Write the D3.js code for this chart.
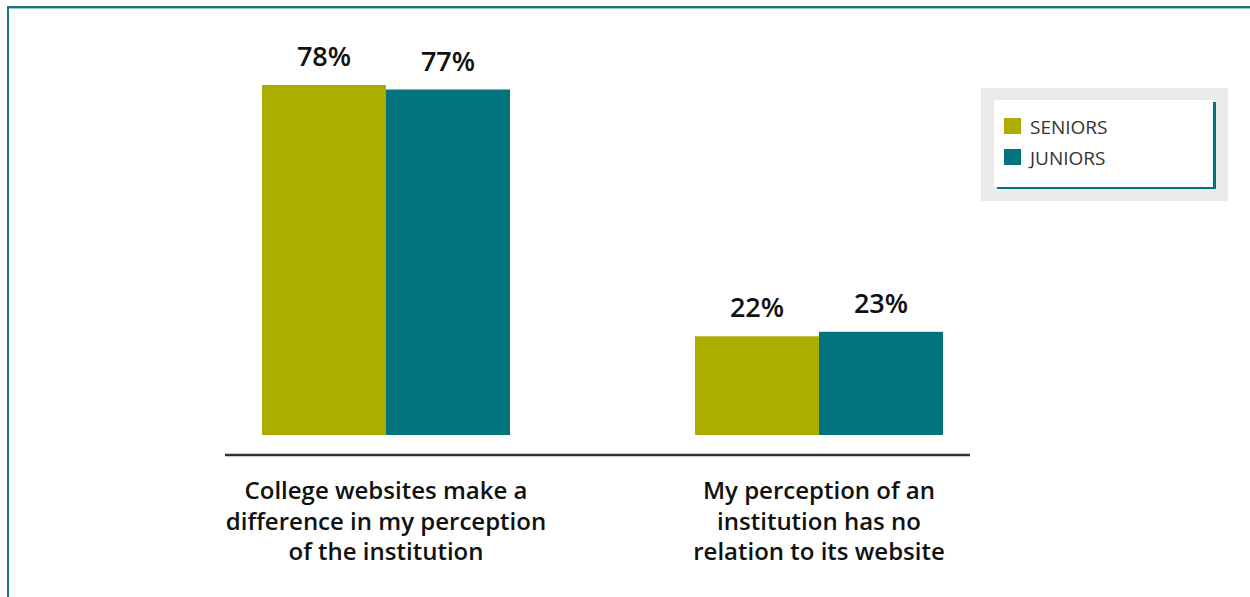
<!DOCTYPE html>
<html>
<head>
<meta charset="utf-8">
<script src="https://cdn.jsdelivr.net/npm/d3@7"></script>
<style>
  html, body { margin: 0; padding: 0; background: #fff; }
  svg { display: block; }
</style>
</head>
<body>
<div id="chart"></div>
<script>
// data
const categories = [
  ["College websites make a", "difference in my perception", "of the institution"],
  ["My perception of an", "institution has no", "relation to its website"]
];
const seriesNames = ["SENIORS", "JUNIORS"];
const seniors = [78, 22];
const juniors = [77, 23];
const colors = ["#adad00", "#03737d"];

const W = 1250, H = 597;
const font = "'Open Sans', sans-serif";

const svg = d3.select('#chart').append('svg')
  .attr('width', W)
  .attr('height', H);

// outer frame (only top and left are visible)
svg.append('rect')
  .attr('x', 8).attr('y', 7)
  .attr('width', W + 20).attr('height', H + 20)
  .attr('fill', 'none')
  .attr('stroke', '#1b7882')
  .attr('stroke-width', 2);
svg.append('line')
  .attr('x1', 9).attr('x2', W)
  .attr('y1', 8.5).attr('y2', 8.5)
  .attr('stroke', '#9cc9cd')
  .attr('stroke-width', 1);

const baseY = 435;
const y = d3.scaleLinear().domain([0, 100]).range([baseY, baseY - 448.7]);

// group positions: 262-510, 695-943
const x0 = d3.scaleBand()
  .domain(d3.range(categories.length))
  .range([262, 943])
  .paddingInner(185 / 433)
  .paddingOuter(0);
const x1 = d3.scaleBand().domain(seriesNames).range([0, x0.bandwidth()]);

const data = categories.map((c, i) => ({
  label: c,
  values: [seniors[i], juniors[i]]
}));

const g = svg.append('g');

data.forEach((d, i) => {
  const gg = g.append('g').attr('transform', `translate(${x0(i)},0)`);
  gg.selectAll('rect')
    .data(d.values)
    .join('rect')
    .attr('x', (v, j) => x1(seriesNames[j]))
    .attr('y', v => y(v))
    .attr('width', x1.bandwidth())
    .attr('height', v => baseY - y(v))
    .attr('fill', (v, j) => colors[j]);

  gg.selectAll('text.val')
    .data(d.values)
    .join('text')
    .attr('class', 'val')
    .attr('x', (v, j) => x1(seriesNames[j]) + x1.bandwidth() / 2)
    .attr('y', v => y(v) - 19)
    .attr('text-anchor', 'middle')
    .style('font-family', font)
    .style('font-size', '27px')
    .style('font-weight', 600)
    .style('fill', '#111')
    .text(v => v + '%');

  // category label
  const cx = x0.bandwidth() / 2;
  const t = gg.append('text')
    .attr('x', cx)
    .attr('y', 499)
    .attr('text-anchor', 'middle')
    .style('font-family', font)
    .style('font-size', '24px')
    .style('font-weight', 600)
    .style('fill', '#111');
  d.label.forEach((line, k) => {
    t.append('tspan')
      .attr('x', cx)
      .attr('dy', k === 0 ? 0 : 30.5)
      .text(line);
  });
});

// baseline axis
svg.append('line')
  .attr('x1', 225).attr('x2', 970)
  .attr('y1', 455).attr('y2', 455)
  .attr('stroke', '#333')
  .attr('stroke-width', 2.5);

// legend
const lg = svg.append('g');
lg.append('rect')
  .attr('x', 981).attr('y', 88)
  .attr('width', 247).attr('height', 113)
  .attr('fill', '#ecebea');
lg.append('rect')
  .attr('x', 997).attr('y', 102)
  .attr('width', 219).attr('height', 87)
  .attr('fill', '#03737d');
lg.append('rect')
  .attr('x', 994).attr('y', 100)
  .attr('width', 219).attr('height', 87)
  .attr('fill', '#fff');

seriesNames.forEach((s, i) => {
  lg.append('rect')
    .attr('x', 1004).attr('y', 118 + i * 31)
    .attr('width', 17).attr('height', 16)
    .attr('fill', colors[i]);
  lg.append('text')
    .attr('x', 1030).attr('y', 134 + i * 31)
    .style('font-family', font)
    .style('font-size', '19px')
    .style('fill', '#333')
    .text(s);
});
</script>
</body>
</html>
